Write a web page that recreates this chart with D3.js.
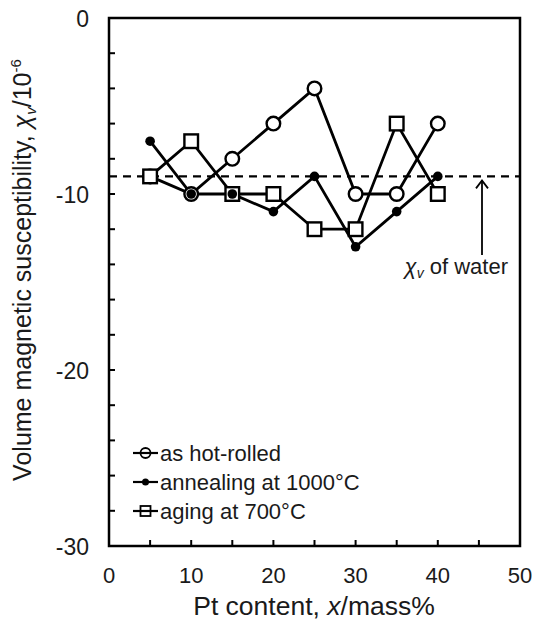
<!DOCTYPE html>
<html>
<head>
<meta charset="utf-8">
<script src="https://cdn.jsdelivr.net/npm/d3@7"></script>
<style>
  body { margin: 0; background: #fff; }
  svg { font-family: "Liberation Sans", Arial, sans-serif; }
</style>
</head>
<body>
<svg width="536" height="631"></svg>
<script>
const ptContent = [5, 10, 15, 20, 25, 30, 35, 40];
const hotRolled = [-9, -10, -8, -6, -4, -10, -10, -6];
const annealing = [-7, -10, -10, -11, -9, -13, -11, -9];
const aging = [-9, -7, -10, -10, -12, -12, -6, -10];
const waterValue = -9;
const xTickLabels = [0, 10, 20, 30, 40, 50];
const yTickLabels = [0, -10, -20, -30];

const svg = d3.select('svg');
const plotLeft = 109, plotRight = 520, plotTop = 18, plotBottom = 546;

let x = d3.scaleLinear().domain([0, 50]).range([plotLeft, plotRight]);
let y = d3.scaleLinear().domain([0, -30]).range([plotTop, plotBottom]);

// frame
svg.append('rect')
  .attr('x', plotLeft).attr('y', plotTop)
  .attr('width', plotRight - plotLeft).attr('height', plotBottom - plotTop)
  .attr('fill', 'none').attr('stroke', '#000').attr('stroke-width', 2.5);

// inner ticks
d3.range(0, -30, -2).slice(1).forEach(v => {
  svg.append('line').attr('x1', plotLeft).attr('x2', plotLeft + 6)
    .attr('y1', y(v)).attr('y2', y(v)).attr('stroke', '#000').attr('stroke-width', 2);
});
d3.range(5, 50, 5).forEach(v => {
  svg.append('line').attr('x1', x(v)).attr('x2', x(v))
    .attr('y1', plotBottom).attr('y2', plotBottom - 6).attr('stroke', '#000').attr('stroke-width', 2);
});

// tick labels
yTickLabels.forEach(v => {
  svg.append('text').attr('x', plotLeft - 20).attr('y', y(v) + 8.5)
    .attr('text-anchor', 'end').attr('font-size', 23).attr('fill', '#1a1a1a').text(v);
});
xTickLabels.forEach(v => {
  svg.append('text').attr('x', x(v)).attr('y', 583)
    .attr('text-anchor', 'middle').attr('font-size', 22).attr('fill', '#1a1a1a').text(v);
});

// axis titles
svg.append('text').attr('x', 314).attr('y', 615)
  .attr('text-anchor', 'middle').attr('font-size', 26.5).attr('fill', '#1a1a1a')
  .html('Pt content, <tspan font-style="italic">x</tspan>/mass%');
svg.append('text')
  .attr('transform', 'translate(31,270) rotate(-90)')
  .attr('text-anchor', 'middle').attr('font-size', 25).attr('fill', '#1a1a1a')
  .html('Volume magnetic susceptibility, <tspan font-style="italic">χ</tspan><tspan font-style="italic" font-size="15" dy="5">v</tspan><tspan dy="-5">/10</tspan><tspan font-size="15" dy="-10">-6</tspan>');

// water line
svg.append('line').attr('x1', plotLeft).attr('x2', plotRight)
  .attr('y1', y(waterValue)).attr('y2', y(waterValue))
  .attr('stroke', '#000').attr('stroke-width', 2.2).attr('stroke-dasharray', '8,6');

// arrow
svg.append('line').attr('x1', 482).attr('x2', 482)
  .attr('y1', y(waterValue) + 4).attr('y2', 255)
  .attr('stroke', '#000').attr('stroke-width', 1.8);
svg.append('path').attr('d', `M476,${y(waterValue) + 12} L482,${y(waterValue) + 4} L488,${y(waterValue) + 12}`)
  .attr('fill', 'none').attr('stroke', '#000').attr('stroke-width', 1.8);
svg.append('text').attr('x', 508).attr('y', 274).attr('text-anchor', 'end')
  .attr('font-size', 22).attr('fill', '#1a1a1a')
  .html('<tspan font-style="italic">χ</tspan><tspan font-style="italic" font-size="14" dy="4">v</tspan><tspan dy="-4"> of water</tspan>');

let line = d3.line().x((d, i) => x(ptContent[i])).y(d => y(d));

function drawMarker(g, type, cx, cy) {
  if (type === 'circle') {
    g.append('circle').attr('cx', cx).attr('cy', cy).attr('r', 6.8)
      .attr('fill', '#fff').attr('stroke', '#000').attr('stroke-width', 2.4);
  } else if (type === 'dot') {
    g.append('circle').attr('cx', cx).attr('cy', cy).attr('r', 4.8).attr('fill', '#000');
  } else {
    g.append('rect').attr('x', cx - 6.8).attr('y', cy - 6.8).attr('width', 13.6).attr('height', 13.6)
      .attr('fill', '#fff').attr('stroke', '#000').attr('stroke-width', 2.4);
  }
}

const series = [
  { values: hotRolled, marker: 'circle', label: 'as hot-rolled' },
  { values: annealing, marker: 'dot', label: 'annealing at 1000°C' },
  { values: aging, marker: 'square', label: 'aging at 700°C' }
];

series.forEach(s => {
  svg.append('path').attr('d', line(s.values))
    .attr('fill', 'none').attr('stroke', '#000').attr('stroke-width', 2.8);
});
// markers: circles, squares, then dots on top
[series[0], series[2], series[1]].forEach(s => {
  let g = svg.append('g');
  s.values.forEach((v, i) => drawMarker(g, s.marker, x(ptContent[i]), y(v)));
});

// legend
series.forEach((s, i) => {
  let ly = 453 + i * 29;
  svg.append('line').attr('x1', 133).attr('x2', 158).attr('y1', ly).attr('y2', ly)
    .attr('stroke', '#000').attr('stroke-width', 2.2);
  let g = svg.append('g');
  if (s.marker === 'circle') {
    g.append('circle').attr('cx', 145.5).attr('cy', ly).attr('r', 5)
      .attr('fill', 'none').attr('stroke', '#000').attr('stroke-width', 1.8);
  } else if (s.marker === 'dot') {
    g.append('circle').attr('cx', 145.5).attr('cy', ly).attr('r', 3.5).attr('fill', '#000');
  } else {
    g.append('rect').attr('x', 140.5).attr('y', ly - 5).attr('width', 10).attr('height', 10)
      .attr('fill', 'none').attr('stroke', '#000').attr('stroke-width', 1.8);
  }
  svg.append('text').attr('x', 160).attr('y', ly + 7.5).attr('font-size', 22).attr('fill', '#1a1a1a')
    .text(s.label);
});
</script>
</body>
</html>
